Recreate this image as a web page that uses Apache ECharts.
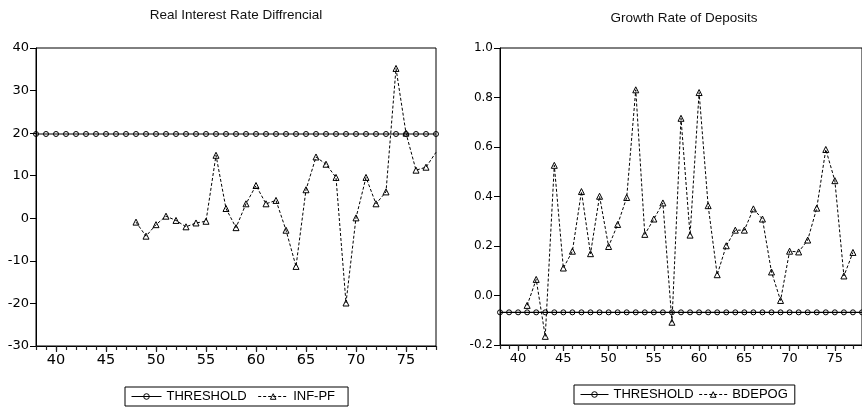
<!DOCTYPE html>
<html>
<head>
<meta charset="utf-8">
<script src="https://cdn.jsdelivr.net/npm/echarts@6/dist/echarts.min.js"></script>
<style>
  html, body { margin: 0; padding: 0; background: #fff; }
  #chart { width: 862px; height: 409px; }
</style>
</head>
<body>
<div id="chart"></div>
<script>
// observation index on the x axis (both panels)
const years = [38, 39, 40, 41, 42, 43, 44, 45, 46, 47, 48, 49, 50, 51, 52, 53, 54, 55, 56, 57,
  58, 59, 60, 61, 62, 63, 64, 65, 66, 67, 68, 69, 70, 71, 72, 73, 74, 75, 76, 77, 78]
const majorTicks = [40, 45, 50, 55, 60, 65, 70, 75]

// left panel: Real Interest Rate Diffrencial
const thresholdLeft = [19.8, 19.8, 19.8, 19.8, 19.8, 19.8, 19.8, 19.8, 19.8, 19.8, 19.8, 19.8, 19.8, 19.8,
  19.8, 19.8, 19.8, 19.8, 19.8, 19.8, 19.8, 19.8, 19.8, 19.8, 19.8, 19.8, 19.8, 19.8, 19.8, 19.8, 19.8,
  19.8, 19.8, 19.8, 19.8, 19.8, 19.8, 19.8, 19.8, 19.8, 19.8]
const infpfYears = [48, 49, 50, 51, 52, 53, 54, 55, 56, 57, 58, 59, 60, 61, 62, 63, 64, 65, 66, 67,
  68, 69, 70, 71, 72, 73, 74, 75, 76, 77, 78]
const infpf = [-0.9, -4.2, -1.5, 0.5, -0.5, -2.0, -1.1, -0.7, 14.8, 2.3, -2.2, 3.4, 7.7, 3.4, 4.2,
  -2.8, -11.3, 6.7, 14.4, 12.7, 9.6, -19.9, 0.1, 9.6, 3.4, 6.2, 35.2, 20.0, 11.3, 12.0, 15.5]

// right panel: Growth Rate of Deposits
const thresholdRight = [-0.068, -0.068, -0.068, -0.068, -0.068, -0.068, -0.068, -0.068, -0.068, -0.068,
  -0.068, -0.068, -0.068, -0.068, -0.068, -0.068, -0.068, -0.068, -0.068, -0.068, -0.068, -0.068,
  -0.068, -0.068, -0.068, -0.068, -0.068, -0.068, -0.068, -0.068, -0.068, -0.068, -0.068, -0.068,
  -0.068, -0.068, -0.068, -0.068, -0.068, -0.068, -0.068]
const bdepogYears = [41, 42, 43, 44, 45, 46, 47, 48, 49, 50, 51, 52, 53, 54, 55, 56, 57, 58, 59, 60,
  61, 62, 63, 64, 65, 66, 67, 68, 69, 70, 71, 72, 73, 74, 75, 76, 77]
const bdepog = [-0.04, 0.065, -0.165, 0.526, 0.111, 0.179, 0.42, 0.169, 0.401, 0.198, 0.287, 0.396,
  0.831, 0.247, 0.309, 0.374, -0.108, 0.716, 0.244, 0.82, 0.363, 0.084, 0.201, 0.264, 0.264, 0.35,
  0.309, 0.095, -0.02, 0.179, 0.176, 0.224, 0.353, 0.59, 0.464, 0.079, 0.174]

const font = '"Liberation Sans", Arial, sans-serif'
const tickFont = '"DejaVu Sans", sans-serif'
const black = '#000'

const pairs = (xs, ys) => xs.map((x, i) => [x, ys[i]])

// two x axes per grid: one for the unit ticks, one for the labelled (longer) ticks
function xAxes(gridIndex, labelSize) {
  return [
    {
      gridIndex, type: 'value', min: 38, max: 78, interval: 1, position: 'bottom',
      axisLine: { show: true, onZero: false, lineStyle: { color: black, width: 1 } },
      axisTick: { show: true, length: 4, lineStyle: { color: '#222', width: 1.2 } },
      axisLabel: { show: false },
      splitLine: { show: false },
    },
    {
      gridIndex, type: 'value', min: 38, max: 78, position: 'bottom',
      axisLine: { show: false, onZero: false },
      axisTick: { show: true, length: 6, customValues: majorTicks, lineStyle: { color: '#222', width: 1.2 } },
      axisLabel: { customValues: majorTicks, fontSize: labelSize, color: black, margin: 7, fontFamily: tickFont },
      splitLine: { show: false },
    },
  ]
}

function yAxis(gridIndex, min, max, interval, labelSize, fmt) {
  return {
    gridIndex, type: 'value', min, max, interval, position: 'left',
    axisLine: { show: true, onZero: false, lineStyle: { color: black, width: 1 } },
    axisTick: { show: true, length: 6, lineStyle: { color: black } },
    axisLabel: { fontSize: labelSize, color: black, margin: 7, fontFamily: tickFont, formatter: fmt },
    splitLine: { show: false },
  }
}

const thresholdStyle = {
  type: 'line', symbol: 'circle', symbolSize: 5,
  lineStyle: { color: black, width: 1.2 },
  itemStyle: { color: 'rgba(0,0,0,0)', borderColor: black, borderWidth: 1 },
  emphasis: { disabled: true },
}
const dashedStyle = {
  type: 'line', symbol: 'triangle', symbolSize: 6,
  lineStyle: { color: black, width: 1, type: [3, 2] },
  itemStyle: { color: 'rgba(0,0,0,0)', borderColor: black, borderWidth: 1 },
  emphasis: { disabled: true },
}

const legendBase = {
  orient: 'horizontal', itemHeight: 7,
  borderColor: black, borderWidth: 1, borderRadius: 0,
  textStyle: { fontSize: 13, color: black, fontFamily: font },
  itemStyle: { borderWidth: 1 },
  lineStyle: { width: 1 },
}

// last INF-PF point sits on the frame, marker not drawn
const infpfData = pairs(infpfYears, infpf).map((p, i, arr) =>
  i === arr.length - 1 ? { value: p, symbol: 'none' } : p)

const chart = echarts.init(document.getElementById('chart'), null, { renderer: 'canvas' })
chart.setOption({
  animation: false,
  backgroundColor: '#fff',
  title: [
    { text: 'Real Interest Rate Diffrencial', left: 236, top: 8, textAlign: 'center', padding: 0,
      textStyle: { fontSize: 13.5, fontWeight: 'normal', color: '#111', fontFamily: font } },
    { text: 'Growth Rate of Deposits', left: 684, top: 11, textAlign: 'center', padding: 0,
      textStyle: { fontSize: 13.5, fontWeight: 'normal', color: '#111', fontFamily: font } },
  ],
  grid: [
    { left: 36, top: 48, width: 400, height: 298, show: true, borderColor: black, borderWidth: 1 },
    { left: 500, top: 48, width: 368, height: 297, show: true, borderColor: black, borderWidth: 1 },
  ],
  legend: [
    { ...legendBase, left: 125, top: 387, itemWidth: 30, itemGap: 11, padding: [3, 13, 3, 6],
      data: ['THRESHOLD', 'INF-PF'] },
    { ...legendBase, left: 574, top: 385, itemWidth: 28, itemGap: 5, padding: [3, 7, 3, 6],
      data: ['THRESHOLD', 'BDEPOG'] },
  ],
  xAxis: [...xAxes(0, 14.5), ...xAxes(1, 13)],
  yAxis: [
    yAxis(0, -30, 40, 10, 13),
    yAxis(1, -0.2, 1.0, 0.2, 12, (v) => v.toFixed(1)),
  ],
  series: [
    { ...thresholdStyle, name: 'THRESHOLD', xAxisIndex: 0, yAxisIndex: 0, data: pairs(years, thresholdLeft) },
    { ...dashedStyle, name: 'INF-PF', xAxisIndex: 0, yAxisIndex: 0, data: infpfData },
    { ...thresholdStyle, name: 'THRESHOLD', xAxisIndex: 2, yAxisIndex: 1, data: pairs(years, thresholdRight) },
    { ...dashedStyle, name: 'BDEPOG', xAxisIndex: 2, yAxisIndex: 1, data: pairs(bdepogYears, bdepog) },
  ],
})
</script>
</body>
</html>
